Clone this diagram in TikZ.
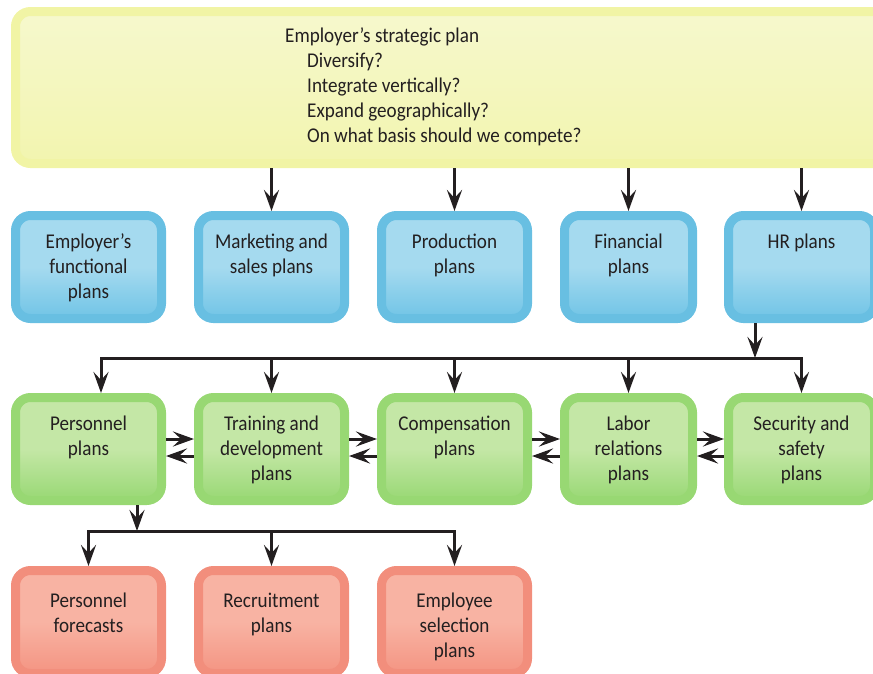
\documentclass[tikz,border=0pt]{standalone}
\usepackage{fontspec}
\setmainfont{Carlito}[FakeStretch=0.91]
\usetikzlibrary{arrows.meta}
\definecolor{txt}{RGB}{35,31,32}
\definecolor{yelline}{RGB}{241,244,165}
\definecolor{yeltop}{RGB}{246,248,205}
\definecolor{yelbot}{RGB}{242,245,175}
\definecolor{blueline}{RGB}{104,191,226}
\definecolor{bluetop}{RGB}{165,218,239}
\definecolor{bluebot}{RGB}{112,196,230}
\definecolor{greenline}{RGB}{152,216,115}
\definecolor{greentop}{RGB}{196,231,166}
\definecolor{greenbot}{RGB}{152,216,116}
\definecolor{redline}{RGB}{242,142,124}
\definecolor{redtop}{RGB}{248,179,163}
\definecolor{redbot}{RGB}{244,148,130}
\newcommand{\boxtext}[2][0pt]{\parbox[c][73pt][t]{126pt}{\centering\vspace*{#1}\strut #2}}
\tikzstyle{plan} = [rectangle, rounded corners=15pt, line width=9pt, minimum width=146pt, minimum height=103pt, inner sep=0pt, text=txt]
\tikzstyle{narrow} = [minimum width=128pt]
\tikzstyle{stratbox} = [plan, draw=yelline, top color=yeltop, bottom color=yelbot, minimum width=879.5pt, minimum height=152pt]
\tikzstyle{bluebox} = [plan, draw=blueline, top color=bluetop, bottom color=bluebot, middle color=bluetop]
\tikzstyle{greenbox} = [plan, draw=greenline, top color=greentop, bottom color=greenbot, middle color=greentop]
\tikzstyle{redbox} = [plan, draw=redline, top color=redtop, bottom color=redbot, middle color=redtop]
\tikzstyle{arrow} = [line width=3pt, draw=txt, -{Stealth[length=21pt, width=15pt, inset=8pt]}]
\begin{document}
\begin{tikzpicture}[x=1pt, y=-1pt, font=\fontsize{21}{25}\selectfont]
\path[use as bounding box, clip] (0,0) rectangle (873,673);

% Strategic plan
\node (strat) [stratbox] at (455.25,87.5) {};
\node (strat-t) [anchor=north west, align=left, inner sep=0pt, text=txt] at (285,24.5) {\strut Employer’s strategic plan\\
  \hspace*{22pt}Diversify?\\
  \hspace*{22pt}Integrate vertically?\\
  \hspace*{22pt}Expand geographically?\\
  \hspace*{22pt}On what basis should we compete?};

% Functional plans
\node (func) [bluebox] at (88.5,267) {\boxtext{Employer’s\\functional\\plans}};
\node (mkt) [bluebox] at (271.5,267) {\boxtext{Marketing and\\sales plans}};
\node (prod) [bluebox] at (454.5,267) {\boxtext{Production\\plans}};
\node (fin) [bluebox, narrow] at (628.5,267) {\boxtext{Financial\\plans}};
\node (hr) [bluebox] at (801.5,267) {\boxtext{HR plans}};

% HR plans
\node (pers) [greenbox] at (88.5,449) {\boxtext{Personnel\\plans}};
\node (train) [greenbox] at (271.5,449) {\boxtext{Training and\\development\\plans}};
\node (comp) [greenbox] at (454.5,449) {\boxtext{Compensation\\plans}};
\node (labor) [greenbox, narrow] at (628.5,449) {\boxtext{Labor\\relations\\plans}};
\node (sec) [greenbox] at (801.5,449) {\boxtext{Security and\\safety\\plans}};

% Personnel plans
\node (fcst) [redbox] at (88.5,622) {\boxtext[4.5pt]{Personnel\\forecasts}};
\node (recr) [redbox] at (271.5,622) {\boxtext[4.5pt]{Recruitment\\plans}};
\node (sel) [redbox] at (454.5,622) {\boxtext[4.5pt]{Employee\\selection\\plans}};

\coordinate (hrbus) at (755,358);
\coordinate (persbus) at (137,531);

% Connecting arrows
\draw [arrow] (strat.south -| mkt.north) -- (mkt.north);
\draw [arrow] (strat.south -| prod.north) -- (prod.north);
\draw [arrow] (strat.south -| fin.north) -- (fin.north);
\draw [arrow] (strat.south -| hr.north) -- (hr.north);

\draw [arrow] (hr.south -| hrbus) -- (hrbus);
\draw [arrow] (hrbus) -| ([xshift=12.5pt]pers.north);
\draw [arrow] (hrbus) -| (sec.north);
\draw [arrow] (train.north |- hrbus) -- (train.north);
\draw [arrow] (comp.north |- hrbus) -- (comp.north);
\draw [arrow] (labor.north |- hrbus) -- (labor.north);

\draw [arrow] ([yshift=10pt]pers.east) -- ([yshift=10pt]train.west);
\draw [arrow] ([yshift=-7pt]train.west) -- ([yshift=-7pt]pers.east);
\draw [arrow] ([yshift=10pt]train.east) -- ([yshift=10pt]comp.west);
\draw [arrow] ([yshift=-7pt]comp.west) -- ([yshift=-7pt]train.east);
\draw [arrow] ([yshift=10pt]comp.east) -- ([yshift=10pt]labor.west);
\draw [arrow] ([yshift=-7pt]labor.west) -- ([yshift=-7pt]comp.east);
\draw [arrow] ([yshift=10pt]labor.east) -- ([yshift=10pt]sec.west);
\draw [arrow] ([yshift=-7pt]sec.west) -- ([yshift=-7pt]labor.east);

\draw [arrow] (pers.south -| persbus) -- (persbus);
\draw [arrow] (persbus) -| (fcst.north);
\draw [arrow] (persbus) -| (sel.north);
\draw [arrow] (recr.north |- persbus) -- (recr.north);

\end{tikzpicture}
\end{document}
